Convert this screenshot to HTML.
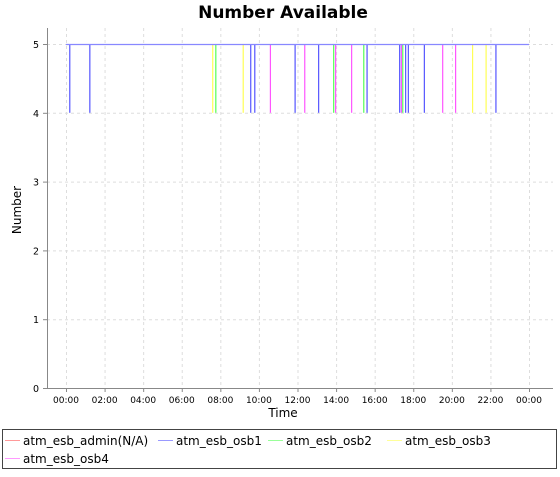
<!DOCTYPE html>
<html><head><meta charset="utf-8"><style>
body{margin:0;background:#fff;font-family:"Liberation Sans","DejaVu Sans",sans-serif}
svg text{font-family:"DejaVu Sans","Liberation Sans",sans-serif}
</style></head><body>
<svg width="560" height="472" id="c">
<text x="283" y="18" text-anchor="middle" font-size="17" font-weight="bold">Number Available</text>
<g id="grid"></g>
<g id="series"></g>
<g id="axes"></g>
<text x="283" y="417" text-anchor="middle" font-size="12">Time</text>
<text transform="translate(21,210) rotate(-90)" text-anchor="middle" font-size="12">Number</text>
<rect x="2.5" y="429.5" width="554" height="39" fill="none" stroke="#444"/>
<g id="legend" font-size="12"></g>
</svg>
<script>
const seriesNames=["atm_esb_admin(N/A)","atm_esb_osb1","atm_esb_osb2","atm_esb_osb3","atm_esb_osb4"];
const seriesColors=["#ff5555","#5555ff","#55ff55","#ffff55","#ff55ff"];
const legendColors=["#ff9999","#9999ff","#99ff99","#ffff99","#ff99ff"];
const baseValue=5, dropValue=4;
const dropsAdmin=[];
const dropsOsb1=[0.17,1.21,9.55,9.76,11.85,13.07,15.58,17.27,17.58,17.72,18.55,22.26];
const dropsOsb2=[7.74,13.85,15.41,17.43];
const dropsOsb3=[7.58,9.16,21.05,21.75];
const dropsOsb4=[10.57,12.35,13.95,14.78,17.36,19.5,20.17];
const yTicks=[0,1,2,3,4,5];
const xTickHours=[0,2,4,6,8,10,12,14,16,18,20,22,24];
const xTickLabels=["00:00","02:00","04:00","06:00","08:00","10:00","12:00","14:00","16:00","18:00","20:00","22:00","00:00"];
const L=47,R=553,T=28,B=388;
const x=h=>66+h*(463/24);
const y=v=>388-v*68.8;
const NS="http://www.w3.org/2000/svg";
function mk(t,a,p){const e=document.createElementNS(NS,t);for(const k in a)e.setAttribute(k,a[k]);p.appendChild(e);return e;}
const grid=document.getElementById('grid'),axes=document.getElementById('axes'),ser=document.getElementById('series'),leg=document.getElementById('legend');
yTicks.forEach(v=>{const g=mk('line',{x1:L,x2:R,y1:y(v)+.5,y2:y(v)+.5,stroke:'#ddd','stroke-dasharray':'3,3'},grid);

const t=mk('line',{x1:L-4,x2:L,y1:y(v)+.5,y2:y(v)+.5,stroke:'#888'},axes);
const tx=mk('text',{x:L-8,y:y(v)+4,'text-anchor':'end','font-size':'9.5'},axes);tx.textContent=v;
});
xTickHours.forEach((h,i)=>{const g=mk('line',{x1:x(h)+.5,x2:x(h)+.5,y1:T,y2:B,stroke:'#ddd','stroke-dasharray':'3,3'},grid);

mk('line',{x1:x(h)+.5,x2:x(h)+.5,y1:B,y2:B+4,stroke:'#888'},axes);
const tx=mk('text',{x:x(h),y:B+15,'text-anchor':'middle','font-size':'9'},axes);tx.textContent=xTickLabels[i];
});
mk('line',{x1:L+.5,x2:L+.5,y1:T,y2:B,stroke:'#888'},axes);
mk('line',{x1:L,x2:R,y1:B+.5,y2:B+.5,stroke:'#888'},axes);
const drops=[dropsAdmin,dropsOsb1,dropsOsb2,dropsOsb3,dropsOsb4];
[0,2,3,4,1].forEach(i=>{const g=mk('g',{},ser);


if(i!==0){drops[i].forEach(h=>{const l=mk('line',{x1:x(h)+.5,x2:x(h)+.5,y1:y(baseValue),y2:y(dropValue),stroke:seriesColors[i],'stroke-width':1.2},g);
});}
if(i===1){const l=mk('line',{x1:x(0),x2:x(24),y1:y(baseValue)+.5,y2:y(baseValue)+.5,stroke:'#8888ff','stroke-width':1.3},g);
}
});
const lp=[[5,445],[158,445],[268,445],[387,445],[5,463]];
seriesNames.forEach((n,i)=>{const g=mk('g',{},leg);

mk('line',{x1:lp[i][0],x2:lp[i][0]+15,y1:lp[i][1]-4.5,y2:lp[i][1]-4.5,stroke:legendColors[i]},g);
const t=mk('text',{x:lp[i][0]+18,y:lp[i][1]},g);t.textContent=n;});
</script>
</body></html>
